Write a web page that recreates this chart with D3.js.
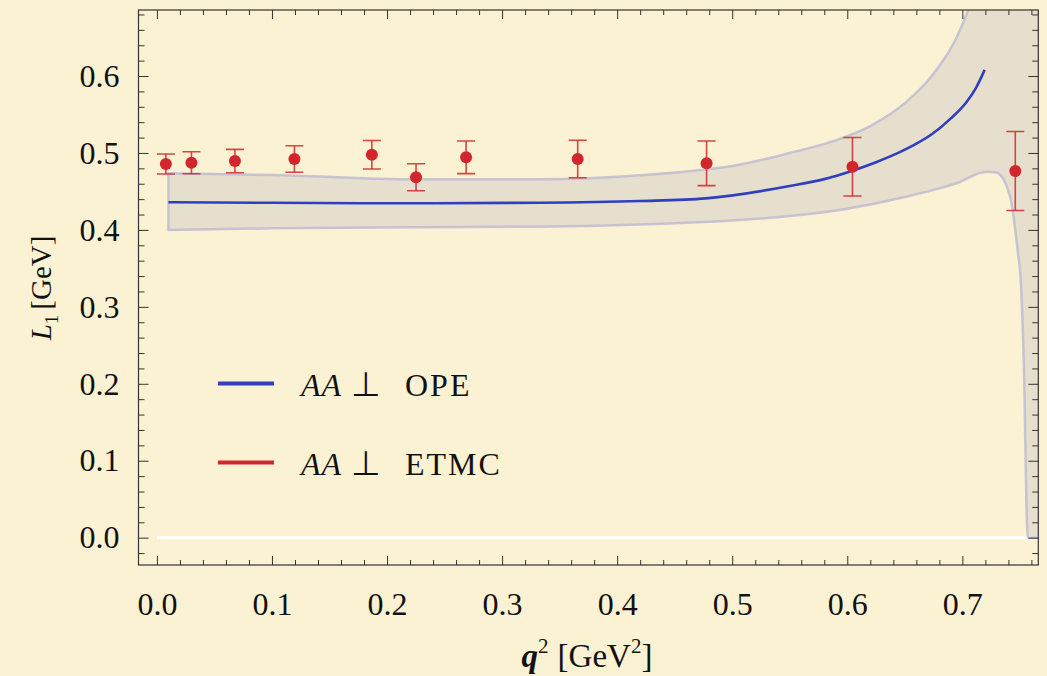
<!DOCTYPE html>
<html>
<head>
<meta charset="utf-8">
<script src="https://cdn.jsdelivr.net/npm/d3@7"></script>
<style>
  body { margin: 0; background: #fbf2d3; }
  svg { display: block; }
  text { font-family: "Liberation Serif", "Times New Roman", serif; }
</style>
</head>
<body>
<svg id="chart" width="1047" height="676"></svg>
<script>
// lattice points (ETMC)
var ptX   = [0.0078, 0.030, 0.0678, 0.1195, 0.1868, 0.2252, 0.2687, 0.3657, 0.4777, 0.6045, 0.746];
var ptY   = [0.4856, 0.4873, 0.4895, 0.4921, 0.4977, 0.4684, 0.4943, 0.4921, 0.4866, 0.4821, 0.4765];
var ptErr = [0.013, 0.0143, 0.0152, 0.0172, 0.0185, 0.0175, 0.0212, 0.0244, 0.029, 0.038, 0.0513];

// OPE central curve
var opeX = [0.01, 0.1, 0.2, 0.333, 0.42, 0.477, 0.55, 0.58, 0.6045, 0.625, 0.6456, 0.66, 0.674, 0.69, 0.7035, 0.712, 0.7194];
var opeY = [0.4359, 0.4352, 0.4346, 0.4353, 0.4375, 0.441, 0.457, 0.466, 0.477, 0.488, 0.501, 0.512, 0.525, 0.545, 0.566, 0.585, 0.608];

// OPE uncertainty band
var bandX  = [0.01, 0.101, 0.225, 0.333, 0.42, 0.507, 0.55, 0.593, 0.62, 0.651, 0.675, 0.695, 0.721, 0.7295, 0.741, 0.748, 0.751, 0.754, 0.7556, 0.757, 0.77];
var bandLo = [0.3999, 0.402, 0.4035, 0.4042, 0.407, 0.4129, 0.418, 0.4258, 0.433, 0.443, 0.452, 0.4606, 0.4756, 0.4746, 0.4459, 0.374, 0.3275, 0.188, 0.049, 0, 0];
var bandHi = [0.4735, 0.4713, 0.4658, 0.4658, 0.471, 0.485, 0.500, 0.518, 0.535, 0.566, 0.603, 0.650, 0.76, 0.81, 0.88, 0.93, 0.96, 1.0, 1.02, 1.04, 1.2];

var xMajor = [0, 0.1, 0.2, 0.3, 0.4, 0.5, 0.6, 0.7];
var yMajor = [0, 0.1, 0.2, 0.3, 0.4, 0.5, 0.6];
var legendLabels = ["OPE", "ETMC"];

var svg = d3.select("#chart");
var L = 138.5, R = 1038.3, T = 10, B = 565;
var serif = "Liberation Serif";

var x = d3.scaleLinear().domain([-0.016, 0.766]).range([L, R]);
var y = d3.scaleLinear().domain([-0.0355, 0.6858]).range([B, T]);

var blue = "#2f3fbf", red = "#d3262c";

svg.append("defs").append("clipPath").attr("id", "clip")
  .append("rect").attr("x", L).attr("y", T).attr("width", R - L).attr("height", B - T);

var plot = svg.append("g").attr("clip-path", "url(#clip)");

// zero line
plot.append("line")
  .attr("x1", x(0)).attr("x2", x(0.766))
  .attr("y1", y(0)).attr("y2", y(0))
  .attr("stroke", "#fff").attr("stroke-width", 3);

// band
var band = bandX.map(function(d, i){ return [d, bandLo[i], bandHi[i]]; });
plot.append("path")
  .datum(band)
  .attr("d", d3.area()
    .x(function(d){ return x(d[0]); })
    .y0(function(d){ return y(d[1]); })
    .y1(function(d){ return y(d[2]); })
    .curve(d3.curveMonotoneX))
  .attr("fill", "#c4bfc6").attr("fill-opacity", 0.38)
  .attr("stroke", "#bdb9d2").attr("stroke-opacity", 0.8).attr("stroke-width", 2.5);

// OPE line
plot.append("path")
  .datum(opeX.map(function(d, i){ return [d, opeY[i]]; }))
  .attr("d", d3.line()
    .x(function(d){ return x(d[0]); })
    .y(function(d){ return y(d[1]); })
    .curve(d3.curveMonotoneX))
  .attr("fill", "none").attr("stroke", blue).attr("stroke-width", 2.6);

// error bars + points
var pts = ptX.map(function(d, i){ return {x: d, y: ptY[i], e: ptErr[i]}; });
var eb = plot.append("g").attr("stroke", red).attr("stroke-opacity", 0.85).attr("stroke-width", 1.6);
eb.selectAll(".v").data(pts).enter().append("line")
  .attr("x1", function(d){ return x(d.x); }).attr("x2", function(d){ return x(d.x); })
  .attr("y1", function(d){ return y(d.y - d.e); }).attr("y2", function(d){ return y(d.y + d.e); });
[-1, 1].forEach(function(s){
  eb.selectAll(".c" + s).data(pts).enter().append("line")
    .attr("x1", function(d){ return x(d.x) - 9; }).attr("x2", function(d){ return x(d.x) + 9; })
    .attr("y1", function(d){ return y(d.y + s * d.e); }).attr("y2", function(d){ return y(d.y + s * d.e); });
});
plot.append("g").selectAll("circle").data(pts).enter().append("circle")
  .attr("cx", function(d){ return x(d.x); }).attr("cy", function(d){ return y(d.y); })
  .attr("r", 6).attr("fill", red);

// frame and ticks
var xMinor = d3.range(0, 0.77, 0.02).filter(function(v){ return Math.abs(v * 10 - Math.round(v * 10)) > 1e-6; });
var yMinor = d3.range(-0.02, 0.69, 0.02).filter(function(v){ return Math.abs(v * 10 - Math.round(v * 10)) > 1e-6; });

function styleAxis(g){
  g.attr("font-family", serif).attr("font-size", 32);
  g.select(".domain").remove();
  g.selectAll("line").attr("stroke", "#333").attr("stroke-width", 1);
  g.selectAll("text").attr("fill", "#111");
}

svg.append("g").attr("transform", "translate(0," + B + ")")
  .call(d3.axisBottom(x).tickValues(xMajor).tickSize(-9).tickPadding(27).tickFormat(d3.format(".1f")))
  .call(styleAxis);
svg.append("g").attr("transform", "translate(0," + B + ")")
  .call(d3.axisBottom(x).tickValues(xMinor).tickSize(-5).tickFormat(""))
  .call(styleAxis);
svg.append("g").attr("transform", "translate(0," + T + ")")
  .call(d3.axisTop(x).tickValues(xMajor).tickSize(-9).tickFormat(""))
  .call(styleAxis);
svg.append("g").attr("transform", "translate(0," + T + ")")
  .call(d3.axisTop(x).tickValues(xMinor).tickSize(-5).tickFormat(""))
  .call(styleAxis);

svg.append("g").attr("transform", "translate(" + L + ",0)")
  .call(d3.axisLeft(y).tickValues(yMajor).tickSize(-10).tickPadding(19).tickFormat(d3.format(".1f")))
  .call(styleAxis);
svg.append("g").attr("transform", "translate(" + L + ",0)")
  .call(d3.axisLeft(y).tickValues(yMinor).tickSize(-6).tickFormat(""))
  .call(styleAxis);
svg.append("g").attr("transform", "translate(" + R + ",0)")
  .call(d3.axisRight(y).tickValues(yMajor).tickSize(-10).tickFormat(""))
  .call(styleAxis);
svg.append("g").attr("transform", "translate(" + R + ",0)")
  .call(d3.axisRight(y).tickValues(yMinor).tickSize(-6).tickFormat(""))
  .call(styleAxis);

svg.append("rect").attr("x", L).attr("y", T).attr("width", R - L).attr("height", B - T)
  .attr("fill", "none").attr("stroke", "#333").attr("stroke-width", 1.2);

// axis labels
var xl = svg.append("text").attr("x", 587).attr("y", 667).attr("text-anchor", "middle")
  .attr("font-family", serif).attr("font-size", 33).attr("fill", "#111");
xl.append("tspan").attr("font-weight", "bold").attr("font-style", "italic").text("q");
xl.append("tspan").attr("dy", -14).attr("font-size", 21).text("2");
xl.append("tspan").attr("dy", 14).attr("dx", 9).text("[GeV");
xl.append("tspan").attr("dy", -14).attr("font-size", 21).text("2");
xl.append("tspan").attr("dy", 14).text("]");

var yl = svg.append("text").attr("transform", "translate(51,288) rotate(-90)").attr("text-anchor", "middle")
  .attr("font-family", serif).attr("font-size", 29).attr("fill", "#111");
yl.append("tspan").attr("font-style", "italic").text("L");
yl.append("tspan").attr("dy", 7).attr("font-size", 19).text("1");
yl.append("tspan").attr("dy", -7).attr("dx", 5).text("[GeV]");

// legend
var leg = svg.append("g");
[blue, red].forEach(function(c, i){
  var yy = 383.5 + i * 79;
  leg.append("line").attr("x1", 218).attr("x2", 274).attr("y1", yy).attr("y2", yy)
    .attr("stroke", c).attr("stroke-width", 4);
  leg.append("text").attr("x", 301).attr("y", yy + 12)
    .attr("font-family", serif).attr("font-size", 32).attr("font-style", "italic")
    .attr("letter-spacing", 1).attr("fill", "#111").text("AA");
  leg.append("text").attr("x", 351).attr("y", yy + 12)
    .attr("font-family", "DejaVu Serif").attr("font-size", 34).attr("fill", "#111").text("\u22A5");
  leg.append("text").attr("x", 405).attr("y", yy + 12)
    .attr("font-family", serif).attr("font-size", 32).attr("letter-spacing", 2)
    .attr("fill", "#111").text(legendLabels[i]);
});
</script>
</body>
</html>
